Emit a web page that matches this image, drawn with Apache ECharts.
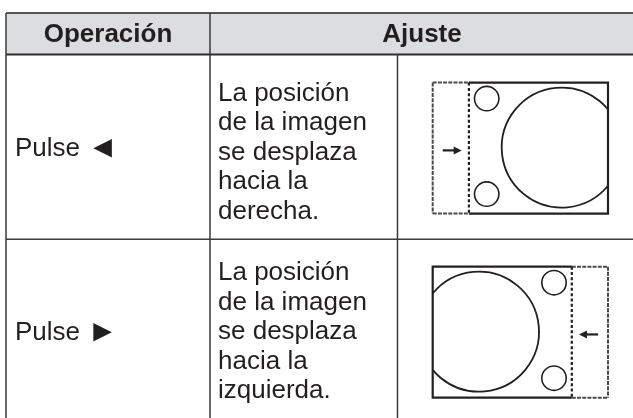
<!DOCTYPE html>
<html lang="es" style="height: 100%">
<head>
  <meta charset="utf-8">
</head>
<body style="height: 100%; margin: 0; background: #fff">
  <div id="container" style="width: 633px; height: 418px"></div>

  <script type="text/javascript" src="https://fastly.jsdelivr.net/npm/echarts@6/dist/echarts.min.js"></script>
  <script type="text/javascript">
    // table content
    var headers = ['Operación', 'Ajuste'];
    var operations = ['Pulse ◄', 'Pulse ►'];
    var descriptions = [
      ['La posición', 'de la imagen', 'se desplaza', 'hacia la', 'derecha.'],
      ['La posición', 'de la imagen', 'se desplaza', 'hacia la', 'izquierda.']
    ];
    var shifts = ['right', 'left'];

    // layout (pixels)
    var colX = [6, 210, 397.5, 634];
    var rowY = [13, 54.5, 239.3, 420];
    var lineColor = '#3a3a3a';
    var textColor = '#231f20';
    var fontFamily = '"Liberation Sans", Arial, sans-serif';
    var font = '26px ' + fontFamily;
    var boldFont = 'bold 26px ' + fontFamily;

    var dom = document.getElementById('container');
    var myChart = echarts.init(dom, null, { renderer: 'canvas' });

    var els = [];

    function line(x1, y1, x2, y2, w, color, dash) {
      els.push({
        type: 'line',
        shape: { x1: x1, y1: y1, x2: x2, y2: y2 },
        style: { stroke: color || lineColor, lineWidth: w || 1.5, lineDash: dash || null },
        z: 2
      });
    }

    function text(str, x, y, f, align, rich) {
      els.push({
        type: 'text',
        x: x,
        y: y,
        style: {
          text: str,
          font: f,
          fill: textColor,
          align: align || 'left',
          verticalAlign: 'middle',
          rich: rich
        },
        z: 3
      });
    }

    // header background
    els.push({
      type: 'rect',
      shape: { x: colX[0], y: rowY[0], width: colX[3] - colX[0], height: rowY[1] - rowY[0] },
      style: { fill: '#dcdddf' },
      z: 1
    });

    // header texts
    var hy = (rowY[0] + rowY[1]) / 2 + 1;
    text(headers[0], (colX[0] + colX[1]) / 2, hy, boldFont, 'center');
    text(headers[1], (colX[1] + colX[3]) / 2, hy, boldFont, 'center');

    // grid lines
    line(colX[0], rowY[0], colX[3], rowY[0], 2, '#555');
    line(colX[0], rowY[1], colX[3], rowY[1], 2, '#2e2e2e');
    for (var r = 2; r < rowY.length; r++) line(colX[0], rowY[r], colX[3], rowY[r], 1.5);
    line(colX[0], rowY[0], colX[0], rowY[3], 1.5);
    line(colX[1], rowY[0], colX[1], rowY[3], 1.5);
    line(colX[2], rowY[1], colX[2], rowY[3], 1.5);
    line(colX[3], rowY[0], colX[3], rowY[3], 1.5);

    // diagram drawn in box-local units
    function diagram(x0, y0, dir) {
      var W = 175.3, H = 131, strip = 36.2;
      var ink = '#231f20';
      function fx(v) { return dir === 'right' ? x0 + v : x0 + W - v; }
      var sx = fx(strip);
      // solid picture: three sides
      els.push({
        type: 'polyline',
        shape: { points: [[sx, y0], [fx(W), y0], [fx(W), y0 + H], [sx, y0 + H]] },
        style: { fill: null, stroke: ink, lineWidth: 2.2 },
        z: 4
      });
      // dashed original area
      var outer = fx(0);
      var dashL = Math.min(outer, sx), dashR = Math.max(outer, sx);
      line(outer, y0, outer, y0 + H, 2, '#4a4a4a', [4, 1.2]);
      line(dashL, y0, dashR, y0, 2, '#4a4a4a', [4, 1.2]);
      line(dashL, y0 + H, dashR, y0 + H, 2, '#4a4a4a', [4, 1.2]);
      line(sx, y0, sx, y0 + H, 2.2, ink, [3, 2.3]);
      // small circles
      [16, 111.5].forEach(function (cy) {
        els.push({
          type: 'circle',
          shape: { cx: fx(54), cy: y0 + cy, r: 12.2 },
          style: { fill: null, stroke: ink, lineWidth: 1.6 },
          z: 4
        });
      });
      // big circle clipped by picture edge
      var cx = fx(129), cy = y0 + 65, R = 60;
      var a = Math.acos((W - 129) / R);
      var start = dir === 'right' ? a : -(Math.PI - a);
      var end = dir === 'right' ? 2 * Math.PI - a : Math.PI - a;
      els.push({
        type: 'arc',
        shape: { cx: cx, cy: cy, r: R, startAngle: start, endAngle: end, clockwise: true },
        style: { fill: null, stroke: ink, lineWidth: 1.8 },
        z: 4
      });
      // arrow
      var ay = y0 + 67.8;
      var tail = fx(10), head = fx(29);
      var s = dir === 'right' ? 1 : -1;
      line(tail, ay, head - s * 6, ay, 2.2, ink);
      els.push({
        type: 'polygon',
        shape: { points: [[head, ay], [head - s * 8, ay - 4], [head - s * 8, ay + 4]] },
        style: { fill: ink },
        z: 4
      });
    }

    var firstLineY = [93.7, 273.3];
    var opY = [148.6, 332.6];
    for (var i = 0; i < operations.length; i++) {
      var rowTop = rowY[i + 1], rowBottom = rowY[i + 2];
      var mid = (rowTop + rowBottom) / 2;
      var parts = operations[i].split(' ');
      text(parts[0] + ' {t|' + parts[1] + '}', 15, opY[i], font, 'left', {
        t: { fontSize: 31, fontFamily: fontFamily, fill: textColor, padding: [0, 0, 0, 0] }
      });
      var lines = descriptions[i];
      var lh = 29.5;
      for (var k = 0; k < lines.length; k++) {
        text(lines[k], 218, firstLineY[i] + k * lh, font, 'left');
      }
      diagram(432.7, mid - 65 + (i === 0 ? 0.7 : 2), shifts[i]);
    }

    var option = {
      animation: false,
      graphic: { elements: els }
    };
    myChart.setOption(option);
    window.addEventListener('resize', myChart.resize);
  </script>
</body>
</html>
